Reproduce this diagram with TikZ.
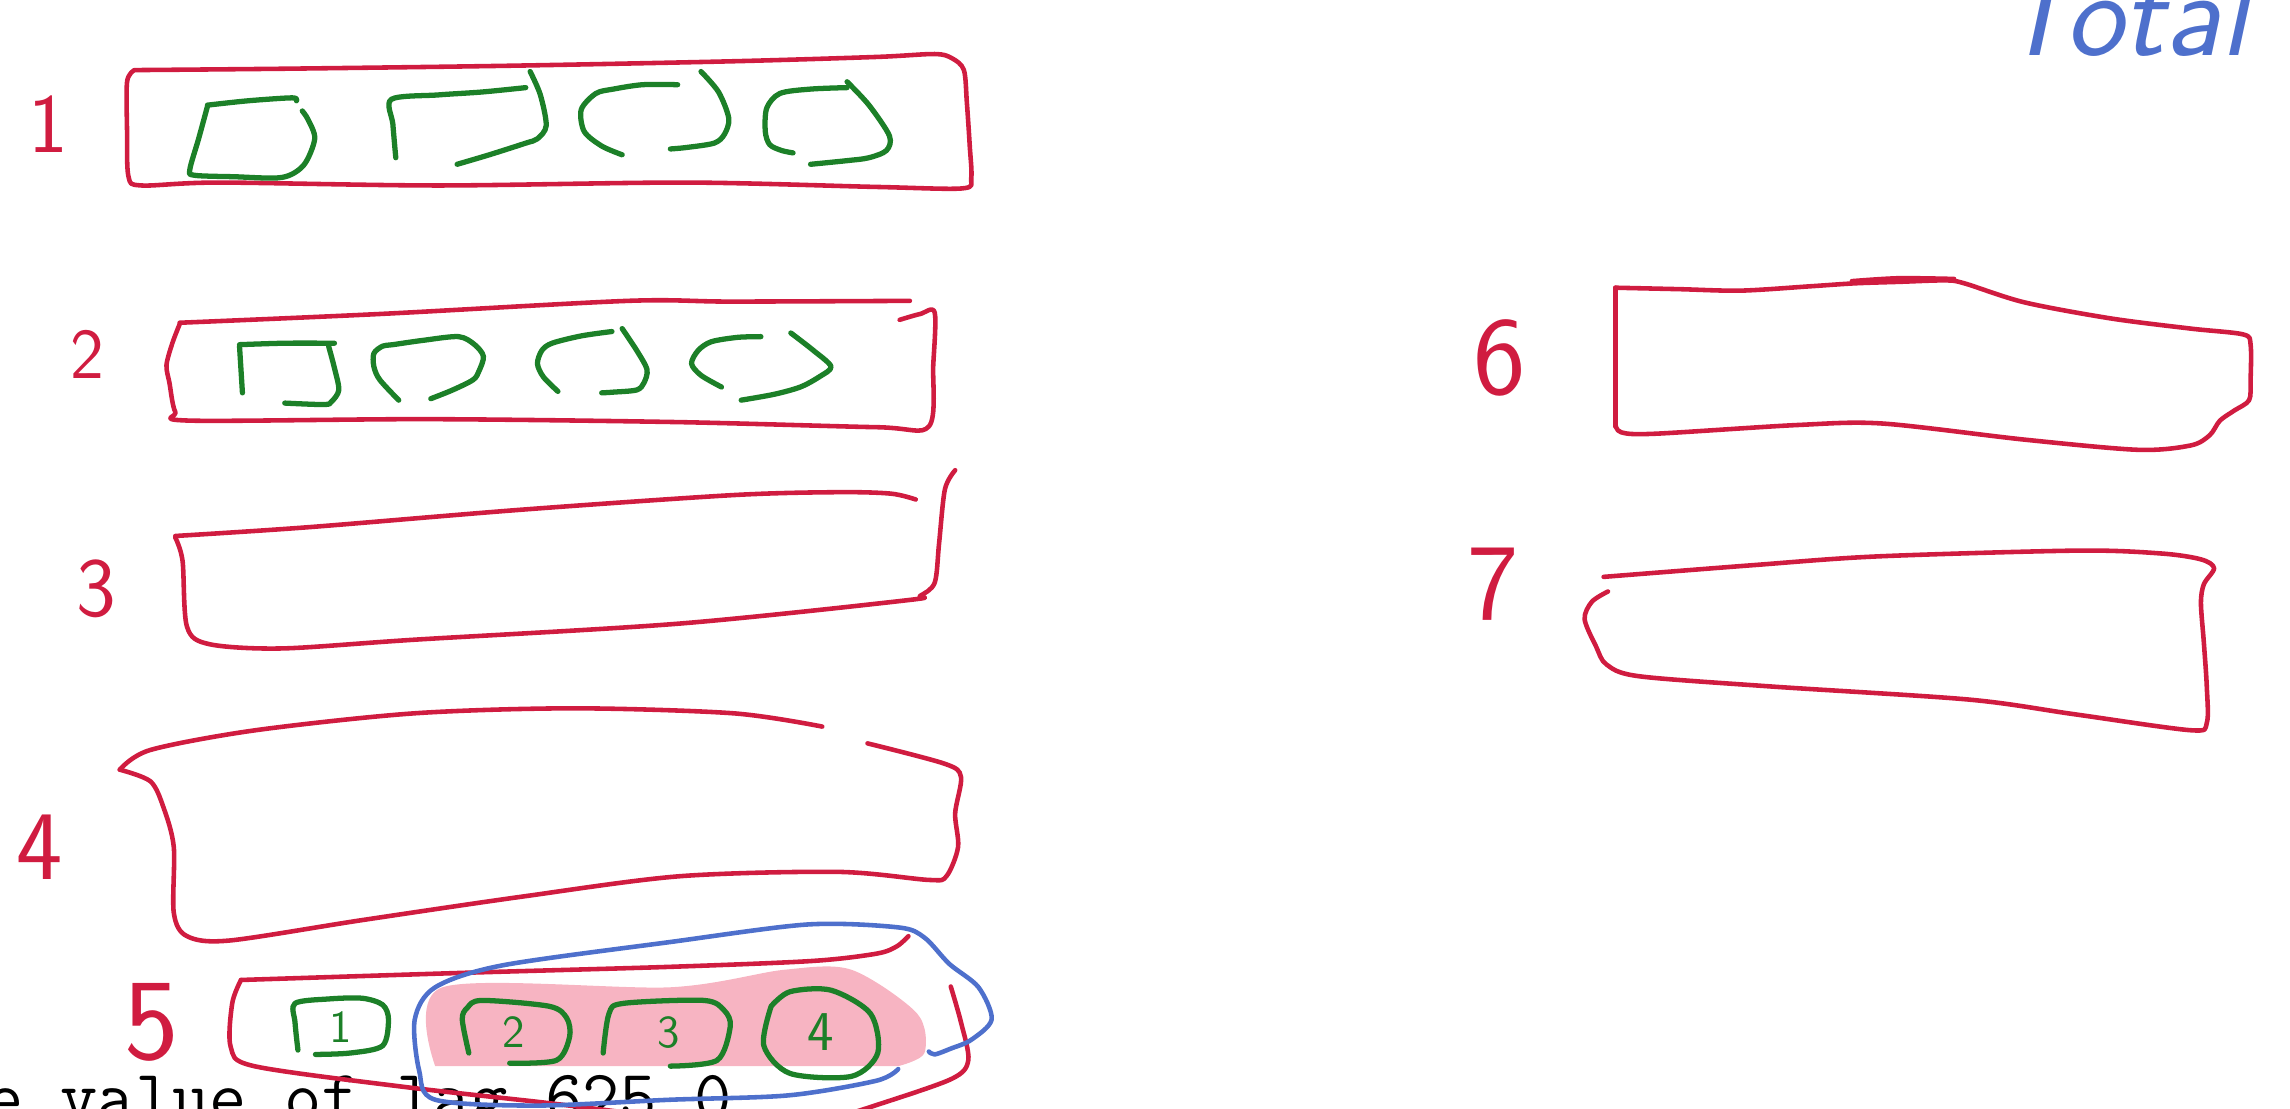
\documentclass[tikz,border=0pt]{standalone}
\usepackage{fontspec}
\usetikzlibrary{calc}
\definecolor{inkred}{RGB}{208,28,64}
\definecolor{inkgreen}{RGB}{28,128,40}
\definecolor{inkblue}{RGB}{78,112,204}
\definecolor{hilite}{RGB}{247,180,194}
\tikzset{
  redline/.style={draw=inkred, line width=1.3pt, line cap=round, line join=round},
  greenline/.style={draw=inkgreen, line width=1.5pt, line cap=round, line join=round},
  blueline/.style={draw=inkblue, line width=1.3pt, line cap=round, line join=round},
  hand/.style={smooth, tension=0.5},
  redlabel/.style={text=inkred, inner sep=0pt},
  greenlabel/.style={text=inkgreen, inner sep=0pt}
}
\newcommand{\fsz}[1]{\fontsize{#1}{#1}\selectfont}
\begin{document}
\begin{tikzpicture}[x=0.014605cm, y=-0.014605cm]
\useasboundingbox (0,0) rectangle (1568,759);

% ---------- texts ----------
\node[anchor=base west, inner sep=0pt, text=inkblue, font=\fsz{35}\sffamily\itshape] (total) at (1366,38) {Total};
\node[anchor=base west, inner sep=0pt, text=black, font=\fsz{20.6}\ttfamily] (caption) at (-10,767) {e value of lag 625.0};

\node[redlabel, font=\fsz{24}\sffamily] (l1) at (33,85) {1};
\node[redlabel, font=\fsz{20.4}\sffamily] (l2) at (60,243) {2};
\node[redlabel, font=\fsz{24}\sffamily] (l3) at (66,403) {3};
\node[redlabel, font=\fsz{28}\sffamily] (l4) at (27,580) {4};
\node[redlabel, font=\fsz{33}\sffamily] (l5) at (104,700) {5};
\node[redlabel, font=\fsz{31.7}\sffamily] (l6) at (1027,245) {6};
\node[redlabel, font=\fsz{31}\sffamily] (l7) at (1022,400) {7};

% ---------- box 1 ----------
\draw[redline] plot[hand] coordinates {(92,48) (200,47) (350,45) (500,42) (600,39) (640,37) (652,40) (660,48) (662,70) (664,100) (665,122) (659,129) (600,128) (470,125) (300,127) (150,125) (97,127) (88,121) (87,90) (87,56) (92,48)};
\draw[greenline] plot[hand] coordinates {(142,72) (170,69) (200,67) (203,69)};
\draw[greenline] plot[hand] coordinates {(142,73) (136,95) (130,116) (133,120) (160,121) (193,121.5) (208,113) (215.5,95) (211,82) (207,76)};
\draw[greenline] plot[hand] coordinates {(271,108) (269,85) (268,68) (300,65) (330,63) (360,60)};
\draw[greenline] plot[hand] coordinates {(363,49) (370,65) (374,86) (368,95) (360,98) (335,106) (313,112.5)};
\draw[greenline] plot[hand] coordinates {(464,58) (440,58) (420,61) (408,64) (398,75) (400,90) (412,100) (426,106)};
\draw[greenline] plot[hand] coordinates {(480,49) (492,63) (499,81) (496,92) (489,98) (470,101) (459,102)};
\draw[greenline] plot[hand] coordinates {(580,60) (555,61) (534,64) (525,74) (524,90) (527,99) (535,103) (543,104.7)};
\draw[greenline] plot[hand] coordinates {(580,56) (595,72) (609,93) (607,103) (595,108) (580,110) (555,112.5)};

% ---------- box 2 ----------
\draw[redline] plot[hand] coordinates {(123,221) (260,215) (430,206) (500,206.5) (623,206)};
\draw[redline] plot[hand] coordinates {(616,219) (630,215) (640,214) (639,250) (636,292) (600,292.5) (463,289) (293,287) (130,288) (120,282) (116,262) (114,250) (118,235) (123,222)};
\draw[greenline] plot[hand] coordinates {(164,236) (195,235) (229,235)};
\draw[greenline] plot[hand] coordinates {(164,237) (165,253) (166,269)};
\draw[greenline] plot[hand] coordinates {(225,237) (229,252) (232,267) (227,275) (222,277) (195,276)};
\draw[greenline] plot[hand] coordinates {(273,274) (260,260) (256,251) (256,242) (262,237) (269,236) (290,233) (314,230.5) (325,236) (331,244) (328,254) (324,260) (310,267) (295,273)};
\draw[greenline] plot[hand] coordinates {(382,268) (372,258) (368,249) (371,240) (378,235) (398,230) (419,227)};
\draw[greenline] plot[hand] coordinates {(426,225) (436,240) (443,253) (441,262) (436,267) (420,268.5) (412,269)};
\draw[greenline] plot[hand] coordinates {(494,265) (480,257) (473.5,249) (478,240) (487,234) (505,231) (521,230.5)};
\draw[greenline] plot[hand] coordinates {(541.5,228) (557,240) (569,251) (561,258) (548,265) (530,270) (507.5,274)};

% ---------- box 3 ----------
\draw[redline] plot[hand] coordinates {(654,322) (647,335) (643,372) (640,399) (630,408) (621,411) (465,427) (284,438) (193,444) (143,441) (128,429) (125,384) (120,368)};
\draw[redline] plot[hand] coordinates {(120,367) (211,361) (357,349) (502,339) (574,337) (610,338) (627,342)};

% ---------- box 4 ----------
\draw[redline] plot[hand] coordinates {(563,497.5) (502,488.4) (393,485) (284,488.4) (175,500) (103,513.5) (82,527)};
\draw[redline] plot[hand] coordinates {(82,527) (103,535) (112,553) (119,580) (119,625) (128,641) (157,644) (248,630) (357,614) (465,600) (574,597) (636,602.5) (648,600) (656,580) (654,557) (658,532) (647,523) (594,509)};

% ---------- box 5 ----------
\fill[hilite] plot[hand] coordinates {(298,730) (303,676) (459,676) (537,664) (583,664) (628,694) (633,721) (615,730)} -- cycle;
\draw[redline] plot[hand] coordinates {(165,671) (321,666) (459,662) (556,658) (600,653) (614,648) (622,641)};
\draw[redline] plot[hand] coordinates {(165,671) (159,687) (158,717) (174,730) (275,744) (373,755) (430,762)};
\draw[redline] plot[hand] coordinates {(651,675.5) (658,700) (663,726) (651,739) (596,758) (570,766)};
\draw[greenline] plot[hand] coordinates {(204,719) (202,700) (202,687) (225,684) (248,683.5) (262,688) (266,698) (262,716) (240,721) (216,722)};
\draw[greenline] plot[hand] coordinates {(321,721) (316.5,698) (320,690) (330,685) (376,689) (388,697) (390,710) (381,726) (349,728)};
\draw[greenline] plot[hand] coordinates {(413,721) (417,694) (427,687) (482,685) (496,692) (500,703) (491,726) (459,730)};
\draw[greenline] plot[hand] coordinates {(528,689) (523,716) (541,735) (583,737) (601,721) (596,694) (569,678) (541,679) (528,689)};
\node[greenlabel, font=\fsz{13}\sffamily] (d1) at (233,703) {1};
\node[greenlabel, font=\fsz{13}\sffamily] (d2) at (352,707) {2};
\node[greenlabel, font=\fsz{13}\sffamily] (d3) at (458,707) {3};
\node[greenlabel, font=\fsz{16}\sffamily] (d4) at (562,707) {4};
\draw[blueline] plot[hand] coordinates {(615,732) (600,740) (540,750) (459,753) (367,757) (298,753) (287,733) (284,698) (298,676) (344,661) (459,645) (553,633) (615,635) (633,642) (650,660) (670,676) (679,698) (665,712) (651,718) (640,722) (636,720)};

% ---------- box 6 ----------
\draw[redline] (1106,292) -- (1106,197);
\draw[redline] plot[hand] coordinates {(1106,197) (1150,198) (1192,199) (1240,196) (1270,194) (1300,193) (1332,192) (1345,194) (1386,207) (1445,218) (1500,225) (1536,229) (1541,236) (1541,260) (1540,274) (1530,281) (1520,288) (1513,298) (1500,305) (1464,308) (1386,301) (1289,290) (1231,291) (1133,297) (1110,296) (1106,290)};
\draw[redline] plot[hand] coordinates {(1268,192.5) (1300,190.5) (1338,191)};

% ---------- box 7 ----------
\draw[redline] plot[hand] coordinates {(1098,395) (1200,387) (1285,381) (1423,377) (1480,379) (1507,383) (1516,389) (1509,400) (1507,413) (1509,440) (1511,470) (1511,495) (1500,500) (1420,489) (1348,479) (1212,470) (1122,463) (1100,455) (1093,443) (1085,424) (1090,412) (1101,405)};
\end{tikzpicture}
\end{document}
